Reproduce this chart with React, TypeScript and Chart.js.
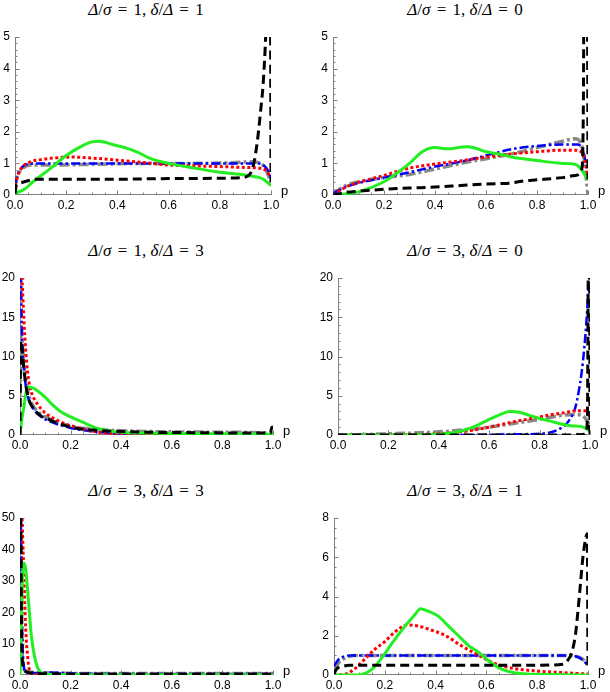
import React, { useEffect, useRef } from 'react';
import { Chart, registerables } from 'chart.js';

Chart.register(...registerables);

type Pt = [number, number];

// ---------- panel parameters ----------
const PANEL_DELTA_SIGMA = [1, 1, 1, 3, 3, 3];
const PANEL_DELTA_RATIO = [1, 0, 3, 0, 3, 1];
const Y_MAX = [5, 5, 20, 20, 50, 8];
const Y_STEP = [1, 1, 5, 5, 10, 2];
const Y_MINOR = [0.2, 0.2, 1, 1, 2, 0.5];
const X_MAX = 1;
const X_STEP = 0.2;
const X_MINOR = 0.05;

// ---------- series: panel 1 (Δ/σ=1, δ/Δ=1) ----------
const green1: Pt[] = [[0,0.05],[0.04,0.2],[0.07,0.42],[0.1,0.6],[0.14,0.85],[0.2,1.25],[0.25,1.5],[0.3,1.68],[0.33,1.7],[0.38,1.6],[0.43,1.5],[0.48,1.35],[0.53,1.15],[0.6,1.0],[0.7,0.85],[0.8,0.72],[0.9,0.63],[0.95,0.56],[0.97,0.5],[1.0,0.3]];
const red1: Pt[] = [[0,0.3],[0.01,0.6],[0.03,0.9],[0.06,1.05],[0.1,1.12],[0.15,1.17],[0.22,1.2],[0.3,1.17],[0.4,1.1],[0.5,1.03],[0.6,0.95],[0.7,0.92],[0.8,0.9],[0.9,0.87],[0.95,0.85],[0.98,0.78],[1.0,0.55]];
const blue1: Pt[] = [[0,0.3],[0.01,0.65],[0.03,0.9],[0.05,0.98],[0.1,1.0],[0.3,1.0],[0.5,1.0],[0.7,1.0],[0.9,1.0],[0.95,1.0],[0.97,0.95],[0.99,0.75],[1.0,0.55]];
const gray1: Pt[] = [[0,0.3],[0.01,0.6],[0.03,0.85],[0.06,0.95],[0.15,0.95],[0.3,0.97],[0.5,1.0],[0.7,1.0],[0.85,1.02],[0.92,1.05],[0.96,1.0],[0.98,0.8],[1.0,0.4]];
const black1: Pt[] = [[0,0.05],[0.005,0.3],[0.02,0.38],[0.05,0.45],[0.08,0.5],[0.2,0.5],[0.4,0.5],[0.6,0.52],[0.8,0.53],[0.88,0.55],[0.91,0.6],[0.93,0.9],[0.945,1.6],[0.96,2.7],[0.97,3.6],[0.98,5.2],[0.99,8],[0.997,8],[1.0,0.4]];

// ---------- panel 2 (Δ/σ=1, δ/Δ=0) ----------
const green2: Pt[] = [[0,0],[0.1,0.1],[0.2,0.42],[0.25,0.69],[0.3,1.0],[0.35,1.37],[0.4,1.5],[0.45,1.46],[0.5,1.51],[0.53,1.53],[0.6,1.37],[0.65,1.3],[0.7,1.2],[0.8,1.09],[0.9,1.0],[0.95,0.97],[0.97,0.85],[1.0,0.48]];
const red2: Pt[] = [[0,0],[0.05,0.25],[0.1,0.4],[0.2,0.62],[0.3,0.85],[0.4,0.98],[0.5,1.08],[0.6,1.2],[0.7,1.3],[0.8,1.37],[0.9,1.42],[0.95,1.42],[0.98,1.3],[1.0,0.65]];
const blue2: Pt[] = [[0,0.05],[0.05,0.25],[0.1,0.38],[0.2,0.55],[0.3,0.72],[0.4,0.9],[0.5,1.05],[0.6,1.25],[0.7,1.45],[0.8,1.55],[0.9,1.6],[0.96,1.6],[0.98,1.4],[1.0,0.7]];
const gray2: Pt[] = [[0,0.05],[0.05,0.3],[0.1,0.42],[0.2,0.55],[0.3,0.65],[0.4,0.82],[0.5,1.0],[0.6,1.15],[0.7,1.3],[0.8,1.5],[0.9,1.7],[0.95,1.78],[0.98,1.4],[1.0,0]];
const black2: Pt[] = [[0,0],[0.05,0.08],[0.1,0.12],[0.2,0.18],[0.3,0.22],[0.4,0.25],[0.5,0.3],[0.6,0.35],[0.7,0.38],[0.75,0.45],[0.8,0.48],[0.9,0.55],[0.95,0.62],[0.975,0.8],[0.982,3],[0.985,8],[0.997,8],[1.0,0.5]];

// ---------- panel 3 (Δ/σ=1, δ/Δ=3) ----------
const green3: Pt[] = [[0,0],[0.005,1.5],[0.015,3.5],[0.03,6.1],[0.05,6.0],[0.07,5.6],[0.1,4.8],[0.13,3.8],[0.16,3.0],[0.2,2.3],[0.25,1.6],[0.3,0.9],[0.35,0.55],[0.4,0.35],[0.5,0.25],[0.7,0.15],[1.0,0.1]];
const red3: Pt[] = [[0,25],[0.008,20],[0.015,15],[0.022,11],[0.03,8],[0.04,6],[0.05,5],[0.07,3.9],[0.1,2.8],[0.14,2],[0.18,1.4],[0.22,1],[0.26,0.7],[0.3,0.4],[0.35,0.2],[0.4,0.1],[0.6,0.05],[1.0,0.05]];
const blue3: Pt[] = [[0,25],[0.004,20],[0.008,13],[0.012,10],[0.02,7],[0.03,5],[0.05,3.5],[0.08,2.4],[0.12,1.7],[0.16,1.25],[0.2,0.9],[0.25,0.6],[0.3,0.4],[0.35,0.25],[0.4,0.15],[0.6,0.1],[0.8,0.1],[1.0,0.1]];
const gray3: Pt[] = [[0,5],[0.003,13],[0.008,12],[0.015,9],[0.025,6.5],[0.035,5],[0.05,3.8],[0.08,2.7],[0.12,2],[0.16,1.5],[0.2,1.1],[0.25,0.85],[0.3,0.7],[0.4,0.55],[0.5,0.45],[0.6,0.4],[0.8,0.35],[0.95,0.3],[1.0,0.2]];
const black3: Pt[] = [[0,0],[0.003,12],[0.008,11],[0.015,8.5],[0.025,6],[0.035,4.5],[0.05,3.5],[0.08,2.5],[0.12,1.9],[0.16,1.4],[0.2,1.0],[0.3,0.6],[0.4,0.45],[0.5,0.35],[0.7,0.3],[0.9,0.25],[0.99,0.25],[0.995,1.0],[1.0,1.0]];

// ---------- panel 4 (Δ/σ=3, δ/Δ=0) ----------
const green4: Pt[] = [[0,0],[0.3,0],[0.4,0.1],[0.45,0.25],[0.5,0.6],[0.55,1.2],[0.6,2.0],[0.65,2.7],[0.68,3.0],[0.72,2.9],[0.76,2.5],[0.8,2.1],[0.85,1.7],[0.9,1.3],[0.93,1.15],[0.96,1.1],[0.98,0.9],[1.0,0.5]];
const red4: Pt[] = [[0,0],[0.3,0.05],[0.4,0.15],[0.5,0.45],[0.55,0.7],[0.6,1.0],[0.65,1.35],[0.7,1.7],[0.75,2.0],[0.8,2.3],[0.85,2.6],[0.9,2.85],[0.95,3.1],[0.98,3.1],[1.0,2.2]];
const blue4: Pt[] = [[0,0],[0.5,0],[0.6,0.03],[0.7,0.08],[0.8,0.15],[0.85,0.4],[0.88,0.8],[0.9,1.2],[0.92,2.0],[0.94,3.3],[0.955,5.5],[0.967,8],[0.977,11],[0.987,15],[0.995,20],[1.0,24]];
const gray4: Pt[] = [[0,0],[0.1,0.05],[0.2,0.15],[0.3,0.25],[0.4,0.4],[0.5,0.65],[0.6,1.0],[0.7,1.5],[0.8,2.0],[0.85,2.3],[0.9,2.55],[0.95,2.6],[0.98,2.2],[1.0,1.2]];
const black4: Pt[] = [[0,0],[0.5,0],[0.9,0],[0.97,0.05],[0.985,0.3],[0.99,3],[0.994,25],[0.998,25],[1.0,0]];

// ---------- panel 5 (Δ/σ=3, δ/Δ=3) ----------
const green5: Pt[] = [[0,0],[0.005,15],[0.01,32],[0.016,35.5],[0.022,34],[0.03,27],[0.037,20],[0.043,14],[0.05,9.5],[0.056,6.5],[0.063,4],[0.07,2.3],[0.08,1],[0.09,0.4],[0.1,0.2],[0.2,0.1],[0.5,0.1],[1.0,0.1]];
const red5: Pt[] = [[0,55],[0.008,50],[0.012,40],[0.016,30],[0.02,20],[0.025,11],[0.03,6],[0.036,2],[0.045,0.6],[0.06,0.2],[0.1,0.05],[1.0,0.02]];
const blue5: Pt[] = [[0,60],[0.003,50],[0.006,25],[0.01,10],[0.015,3],[0.02,1],[0.04,0.7],[0.08,0.6],[0.12,0.8],[0.2,0.5],[0.5,0.3],[1.0,0.3]];
const gray5: Pt[] = [[0,50],[0.004,40],[0.008,10],[0.012,3],[0.02,1.5],[0.04,1],[0.1,0.7],[0.3,0.5],[0.6,0.5],[1.0,0.5]];
const black5: Pt[] = [[0,50],[0.003,50],[0.006,15],[0.01,4],[0.02,1.2],[0.05,0.6],[0.1,0.4],[0.5,0.3],[1.0,0.3]];

// ---------- panel 6 (Δ/σ=3, δ/Δ=1) ----------
const green6: Pt[] = [[0,0],[0.08,0],[0.11,0.03],[0.15,0.3],[0.19,0.9],[0.23,1.65],[0.28,2.5],[0.32,3.1],[0.34,3.38],[0.37,3.25],[0.41,3.0],[0.45,2.5],[0.49,2.0],[0.53,1.5],[0.57,1.15],[0.61,0.7],[0.66,0.3],[0.74,0.07],[0.85,0.02],[1.0,0]];
const red6: Pt[] = [[0,0],[0.04,0.03],[0.08,0.3],[0.12,0.8],[0.16,1.3],[0.2,1.7],[0.24,2.2],[0.29,2.55],[0.33,2.5],[0.38,2.3],[0.44,2.0],[0.5,1.5],[0.57,1.0],[0.63,0.6],[0.7,0.35],[0.8,0.2],[0.93,0.1],[1.0,0.05]];
const blue6: Pt[] = [[0,0.45],[0.015,0.75],[0.04,0.95],[0.07,1.0],[0.5,1.0],[0.9,1.0],[0.94,0.98],[0.97,0.85],[1.0,0.5]];
const gray6: Pt[] = [[0,0.3],[0.02,0.65],[0.05,0.9],[0.08,1.0],[0.5,1.0],[0.9,1.0],[0.95,0.95],[0.98,0.8],[1.0,0.5]];
const black6: Pt[] = [[0,0.05],[0.01,0.3],[0.03,0.42],[0.06,0.5],[0.2,0.5],[0.5,0.5],[0.8,0.5],[0.9,0.55],[0.92,0.75],[0.935,1.1],[0.95,2.0],[0.96,3.2],[0.97,4.6],[0.98,6.0],[0.99,6.9],[0.997,7.2],[1.0,0.3]];

const GREEN = [green1, green2, green3, green4, green5, green6];
const RED = [red1, red2, red3, red4, red5, red6];
const BLUE = [blue1, blue2, blue3, blue4, blue5, blue6];
const GRAY = [gray1, gray2, gray3, gray4, gray5, gray6];
const BLACK = [black1, black2, black3, black4, black5, black6];

// ---------- layout (page pixels) ----------
const LAYOUT = [
  { cx: 0, cy: 20, cw: 305, ch: 200, l: 15, r: 271, t: 37, b: 195, tx: 146, ty: 0 },
  { cx: 305, cy: 20, cw: 305, ch: 200, l: 333, r: 588, t: 37, b: 195, tx: 465, ty: 0 },
  { cx: 0, cy: 260, cw: 305, ch: 200, l: 20, r: 273, t: 278, b: 435, tx: 146, ty: 241 },
  { cx: 305, cy: 260, cw: 305, ch: 200, l: 338, r: 590, t: 278, b: 435, tx: 465, ty: 241 },
  { cx: 0, cy: 500, cw: 305, ch: 192, l: 20, r: 273, t: 518, b: 675, tx: 146, ty: 481 },
  { cx: 305, cy: 500, cw: 305, ch: 192, l: 334, r: 588, t: 518, b: 675, tx: 465, ty: 481 },
];

const TICK_FONT = { family: '"Liberation Sans", Arial, sans-serif', size: 12 };

const axisDeco = {
  id: 'axisDeco',
  beforeDatasetsDraw(chart: any, _args: any, opts: any) {
    const { ctx, chartArea: a, scales } = chart;
    const x = scales.x;
    const y = scales.y;
    ctx.save();
    ctx.strokeStyle = '#7f7f7f';
    ctx.lineWidth = 1;
    ctx.beginPath();
    ctx.moveTo(a.left + 0.5, a.top);
    ctx.lineTo(a.left + 0.5, a.bottom);
    ctx.moveTo(a.left, a.bottom - 0.5);
    ctx.lineTo(a.right, a.bottom - 0.5);
    const ny = Math.round(y.max / opts.yMinor);
    const perY = Math.round(opts.yStep / opts.yMinor);
    for (let i = 1; i <= ny; i++) {
      const py = Math.round(y.getPixelForValue(i * opts.yMinor)) + 0.5;
      const len = i % perY === 0 ? 4 : 2;
      ctx.moveTo(a.left, py);
      ctx.lineTo(a.left + 0.5 + len, py);
    }
    const nx = Math.round(x.max / opts.xMinor);
    const perX = Math.round(opts.xStep / opts.xMinor);
    for (let i = 1; i <= nx; i++) {
      const px = Math.round(x.getPixelForValue(i * opts.xMinor)) + 0.5;
      const len = i % perX === 0 ? 4 : 2;
      ctx.moveTo(px, a.bottom);
      ctx.lineTo(px, a.bottom - 0.5 - len);
    }
    ctx.stroke();
    ctx.fillStyle = '#000';
    ctx.font = '13px "Liberation Sans", Arial, sans-serif';
    ctx.textAlign = 'left';
    ctx.textBaseline = 'alphabetic';
    ctx.fillText('p', a.right + 10, a.bottom);
    ctx.restore();
  },
};

function toXY(pts: Pt[]) {
  return pts.map(([x, y]) => ({ x, y }));
}

function Panel({ idx }: { idx: number }) {
  const ref = useRef<HTMLCanvasElement | null>(null);
  const L = LAYOUT[idx];
  useEffect(() => {
    if (!ref.current) return;
    const yAxisW = L.l - L.cx;
    const xAxisH = L.cy + L.ch - L.b;
    const common = {
      pointRadius: 0,
      fill: false,
      cubicInterpolationMode: 'monotone' as const,
      borderCapStyle: 'butt' as const,
      borderJoinStyle: 'round' as const,
    };
    const chart = new Chart(ref.current, {
      type: 'line',
      data: {
        datasets: [
          { ...common, label: 'black', data: toXY(BLACK[idx]), borderColor: '#000000', borderWidth: 3, borderDash: [9, 5] },
          { ...common, label: 'green', data: toXY(GREEN[idx]), borderColor: '#22ee22', borderWidth: 3 },
          { ...common, label: 'red', data: toXY(RED[idx]), borderColor: '#ff0000', borderWidth: 3, borderDash: [3, 2.5] },
          { ...common, label: 'blue', data: toXY(BLUE[idx]), borderColor: '#0000ff', borderWidth: 2.5, borderDash: [9, 3, 2.5, 3] },
          { ...common, label: 'gray', data: toXY(GRAY[idx]), borderColor: '#888888', borderWidth: 3.5, borderDash: [10, 3, 3, 3] },
        ],
      },
      options: {
        animation: false,
        responsive: false,
        devicePixelRatio: 1,
        layout: {
          padding: {
            left: 0,
            right: L.cx + L.cw - L.r,
            top: L.t - L.cy,
            bottom: 0,
          },
        },
        plugins: {
          legend: { display: false },
          tooltip: { enabled: false },
          title: { display: false },
          axisDeco: { yMinor: Y_MINOR[idx], yStep: Y_STEP[idx], xMinor: X_MINOR, xStep: X_STEP },
        } as any,
        scales: {
          x: {
            type: 'linear',
            min: 0,
            max: X_MAX,
            grid: { display: false, drawTicks: false, tickLength: 0 },
            border: { display: false },
            ticks: {
              stepSize: X_STEP,
              padding: 3,
              color: '#000',
              font: TICK_FONT,
              maxRotation: 0,
              autoSkip: false,
              callback: (v: any) => Number(v).toFixed(1),
            },
            afterFit: (s: any) => { s.height = xAxisH; },
          },
          y: {
            type: 'linear',
            min: 0,
            max: Y_MAX[idx],
            grid: { display: false, drawTicks: false, tickLength: 0 },
            border: { display: false },
            ticks: {
              stepSize: Y_STEP[idx],
              padding: 5,
              color: '#000',
              font: TICK_FONT,
              autoSkip: false,
              callback: (v: any) => String(Math.round(Number(v))),
            },
            afterFit: (s: any) => { s.width = yAxisW; },
          },
        },
      },
      plugins: [axisDeco],
    });
    return () => chart.destroy();
  }, [idx]);

  return (
    <>
      <div
        style={{
          position: 'absolute',
          left: L.tx - 120,
          top: L.ty,
          width: 240,
          textAlign: 'center',
          fontFamily: '"Liberation Serif", "DejaVu Serif", serif',
          fontSize: 17,
          lineHeight: '19px',
          whiteSpace: 'nowrap',
          color: '#000',
        }}
      >
        <i>Δ</i>/<i>σ</i>
        <span style={{ margin: '0 2px' }}> = </span>
        {PANEL_DELTA_SIGMA[idx]}, <i>δ</i>/<i>Δ</i>
        <span style={{ margin: '0 2px' }}> = </span>
        {PANEL_DELTA_RATIO[idx]}
      </div>
      <canvas
        ref={ref}
        width={L.cw}
        height={L.ch}
        style={{ position: 'absolute', left: L.cx, top: L.cy, width: L.cw, height: L.ch, display: 'block' }}
      />
    </>
  );
}

export default function App() {
  return (
    <div style={{ position: 'absolute', left: 0, top: 0, width: 610, height: 692, background: '#fff', overflow: 'hidden' }}>
      {LAYOUT.map((_, i) => (
        <Panel key={i} idx={i} />
      ))}
    </div>
  );
}
